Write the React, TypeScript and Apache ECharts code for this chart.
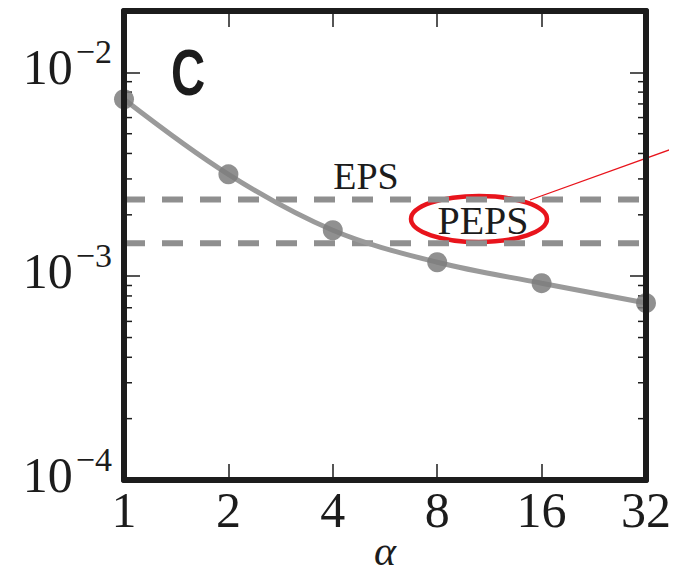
import React, { useEffect, useRef } from "react";
import * as echarts from "echarts";

// ---- data ----
const alphaValues = [1, 2, 4, 8, 16, 32];
const errorValues = [0.00738, 0.00316, 0.00168, 0.00117, 0.000924, 0.000738];
const epsLevel = 0.00238;
const pepsLevel = 0.00145;
const xTickLabels = ["1", "2", "4", "8", "16", "32"];
const yMin = 1e-4;
const yMax = 0.02;
const minorTickValues: number[] = [];
for (let e = -4; e <= -3; e++) {
  for (let k = 2; k <= 9; k++) minorTickValues.push(k * Math.pow(10, e));
}
for (let k = 2; k <= 9; k++) {
  const v = k * 1e-2;
  if (v < yMax) minorTickValues.push(v);
}

const SERIF = "Liberation Serif";
const INK = "#1c1c1c";

export default function App() {
  const ref = useRef<HTMLDivElement>(null);
  useEffect(() => {
    if (!ref.current) return;
    const chart = echarts.init(ref.current, undefined, { renderer: "svg" });
    const frameLine = { show: true, lineStyle: { color: INK, width: 6 } };
    const xBase = {
      type: "log" as const,
      logBase: 2,
      min: alphaValues[0],
      max: alphaValues[alphaValues.length - 1],
      splitLine: { show: false },
      axisLine: frameLine,
      z: 10,
    };
    const yBase = {
      type: "log" as const,
      logBase: 10,
      min: yMin,
      max: yMax,
      splitLine: { show: false },
      axisLine: frameLine,
      z: 10,
    };
    chart.setOption({
      animation: false,
      grid: { left: 124, right: 31, top: 11, bottom: 95, outerBoundsMode: "none", containLabel: false },
      xAxis: [
        {
          ...xBase,
          position: "bottom",
          name: "α",
          nameLocation: "middle",
          nameGap: 71,
          nameMoveOverlap: false,
          nameTextStyle: {
            fontFamily: SERIF,
            fontStyle: "italic",
            fontSize: 42,
            lineHeight: 30,
            color: INK,
            verticalAlign: "middle",
          },
          axisTick: { show: true, inside: true, length: 16, lineStyle: { color: INK, width: 1.5 } },
          axisLabel: {
            fontFamily: SERIF,
            fontSize: 50,
            color: INK,
            margin: 5,
            formatter: (v: number) => {
              const i = alphaValues.findIndex((a) => Math.abs(a - v) < 1e-6);
              return i >= 0 ? xTickLabels[i] : "";
            },
          },
        },
        {
          ...xBase,
          position: "top",
          axisTick: { show: true, inside: true, length: 16, lineStyle: { color: INK, width: 1.5 } },
          axisLabel: { show: false },
        },
      ],
      yAxis: [
        {
          ...yBase,
          position: "left",
          axisTick: { show: true, inside: true, length: 16, lineStyle: { color: INK, width: 1.5 } },
          axisLabel: {
            margin: 12,
            padding: [0, 0, 10, 0],
            formatter: (v: number) => {
              const l = Math.log10(v);
              const e = Math.round(l);
              if (Math.abs(l - e) > 1e-6) return "";
              return `{b|10}{s|−${-e}}`;
            },
            rich: {
              b: { fontFamily: SERIF, fontSize: 50, lineHeight: 50, color: INK },
              s: { fontFamily: SERIF, fontSize: 34, lineHeight: 34, color: INK, padding: [0, 0, 32, 3] },
            },
          },
        },
        {
          ...yBase,
          position: "right",
          axisTick: { show: true, inside: true, length: 16, lineStyle: { color: INK, width: 1.5 } },
          axisLabel: { show: false },
        },
      ],
      series: [
        {
          type: "custom",
          xAxisIndex: 0,
          yAxisIndex: 0,
          silent: true,
          data: minorTickValues.map((v) => [alphaValues[0], v]),
          encode: { x: 0, y: 1 },
          renderItem: (_p: any, api: any) => {
            const v = api.value(1);
            const l = api.coord([alphaValues[0], v]);
            const r = api.coord([alphaValues[alphaValues.length - 1], v]);
            return {
              type: "group",
              children: [
                { type: "line", shape: { x1: l[0], y1: l[1], x2: l[0] + 8, y2: l[1] }, style: { stroke: INK, lineWidth: 1.5 } },
                { type: "line", shape: { x1: r[0] - 8, y1: r[1], x2: r[0], y2: r[1] }, style: { stroke: INK, lineWidth: 1.5 } },
              ],
            };
          },
        },
        {
          type: "line",
          data: [
            [alphaValues[0], epsLevel],
            [alphaValues[alphaValues.length - 1], epsLevel],
          ],
          showSymbol: false,
          symbol: "none",
          lineStyle: { color: "#8f8f8f", width: 6, type: [21, 17] },
          silent: true,
        },
        {
          type: "line",
          data: [
            [alphaValues[0], pepsLevel],
            [alphaValues[alphaValues.length - 1], pepsLevel],
          ],
          showSymbol: false,
          symbol: "none",
          lineStyle: { color: "#8f8f8f", width: 6, type: [21, 17] },
          silent: true,
        },
        {
          type: "line",
          data: alphaValues.map((a, i) => [a, errorValues[i]]),
          smooth: 0.35,
          symbol: "circle",
          symbolSize: 20,
          clip: false,
          itemStyle: { color: "rgba(125,125,125,0.85)" },
          lineStyle: { color: "#9a9a9a", width: 5 },
        },
      ],
      graphic: [
        {
          type: "text",
          x: 171,
          y: 41,
          scaleX: 0.74,
          style: {
            text: "C",
            font: "bold 64px Liberation Sans",
            fill: INK,
          },
        },
        {
          type: "text",
          x: 366,
          y: 176,
          style: { text: "EPS", font: `38px ${SERIF}`, fill: INK, align: "center", verticalAlign: "middle" },
        },
        {
          type: "text",
          x: 483,
          y: 220,
          style: { text: "PEPS", font: `40px ${SERIF}`, fill: INK, align: "center", verticalAlign: "middle" },
        },
        {
          type: "ellipse",
          shape: { cx: 479, cy: 219, rx: 68, ry: 23 },
          style: { fill: "none", stroke: "#e8141c", lineWidth: 4.5 },
        },
        {
          type: "line",
          shape: { x1: 530, y1: 200, x2: 680, y2: 146 },
          style: { stroke: "#e8141c", lineWidth: 1.3 },
        },
      ],
    });
    return () => chart.dispose();
  }, []);
  return <div ref={ref} style={{ width: 677, height: 575, marginLeft: -8, marginTop: -8 }} />;
}
